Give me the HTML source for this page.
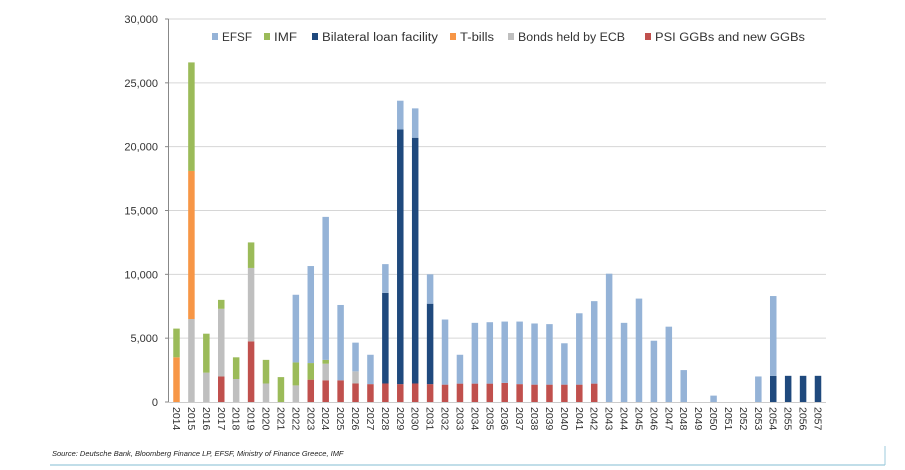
<!DOCTYPE html>
<html><head><meta charset="utf-8"><style>
html,body{margin:0;padding:0;background:#fff;}
svg{display:block;font-family:"Liberation Sans",Arial,sans-serif;}
</style></head><body>
<svg id="chart" width="905" height="470" viewBox="0 0 905 470">
<g id="grid"></g>
<g id="bars"></g>
<g id="yaxis"></g>
<g id="xaxis"></g>
<g id="legend"></g>
<text x="52" y="456" font-size="7.5" font-style="italic" fill="#222">Source: Deutsche Bank, Bloomberg Finance LP, EFSF, Ministry of Finance Greece, IMF</text>
<line x1="50" y1="465" x2="885" y2="465" stroke="#9ccbdc" stroke-width="1.2"/>
<line x1="885" y1="446" x2="885" y2="465" stroke="#9ccbdc" stroke-width="1"/>
</svg>
<script>
const years = ["2014","2015","2016","2017","2018","2019","2020","2021","2022","2023","2024","2025","2026","2027","2028","2029","2030","2031","2032","2033","2034","2035","2036","2037","2038","2039","2040","2041","2042","2043","2044","2045","2046","2047","2048","2049","2050","2051","2052","2053","2054","2055","2056","2057"];
const psi =      [0,0,0,2000,0,4750,0,0,0,1750,1700,1700,1450,1400,1450,1400,1450,1400,1360,1440,1440,1440,1500,1400,1360,1360,1360,1360,1440,0,0,0,0,0,0,0,0,0,0,0,0,0,0,0];
const ecb =      [0,6500,2300,5300,1800,5750,1450,0,1300,0,1300,0,950,0,0,0,0,0,0,0,0,0,0,0,0,0,0,0,0,0,0,0,0,0,0,0,0,0,0,0,0,0,0,0];
const tbills =   [3500,11600,0,0,0,0,0,0,0,0,0,0,0,0,0,0,0,0,0,0,0,0,0,0,0,0,0,0,0,0,0,0,0,0,0,0,0,0,0,0,0,0,0,0];
const bilateral =[0,0,0,0,0,0,0,0,0,0,0,0,0,0,7100,19950,19250,6300,0,0,0,0,0,0,0,0,0,0,0,0,0,0,0,0,0,0,0,0,0,0,2050,2050,2050,2050];
const imf =      [2250,8500,3050,700,1700,2000,1850,1950,1800,1300,300,0,0,0,0,0,0,0,0,0,0,0,0,0,0,0,0,0,0,0,0,0,0,0,0,0,0,0,0,0,0,0,0,0];
const efsf =     [0,0,0,0,0,0,0,0,5300,7600,11200,5900,2250,2300,2250,2250,2300,2300,5100,2260,4760,4810,4800,4900,4790,4740,3240,5590,6460,10050,6200,8100,4800,5900,2500,0,500,0,0,2000,6250,0,0,0];
const yTicks = [0,5000,10000,15000,20000,25000,30000];
const yTickLabels = ["0","5,000","10,000","15,000","20,000","25,000","30,000"];
const seriesNames = ["EFSF","IMF","Bilateral loan facility","T-bills","Bonds held by ECB","PSI GGBs and new GGBs"];

const NS="http://www.w3.org/2000/svg";
function mk(tag,attrs,parent){const e=document.createElementNS(NS,tag);for(const k in attrs)e.setAttribute(k,attrs[k]);parent.appendChild(e);return e;}
const y0=402, yTop=19, yMax=30000;
function yScale(v){return y0-(v/yMax)*(y0-yTop);}
const xFirst=176.5, xStep=(818-176.5)/43;
function xScale(i){return xFirst+i*xStep;}
const barW=6.5;

const grid=document.getElementById('grid');
yTicks.forEach((t,i)=>{
  if(t===0) return;
  const l=mk('line',{x1:168,x2:826,y1:yScale(t),y2:yScale(t),stroke:'#d6d6d6','stroke-width':1},grid);
  
  
});
const ya=document.getElementById('yaxis');
const al=mk('line',{x1:168.5,x2:168.5,y1:yTop,y2:y0,stroke:'#888','stroke-width':1},ya);


yTicks.forEach((t,i)=>{
  const tk=mk('line',{x1:165,x2:168.5,y1:yScale(t),y2:yScale(t),stroke:'#888'},ya);
  
  
  const tx=mk('text',{x:158,y:yScale(t)+4,'text-anchor':'end','font-size':11,fill:'#333'},ya);
  tx.textContent=yTickLabels[i];
  
  
});
const bl=mk('line',{x1:168,x2:826,y1:y0+0.5,y2:y0+0.5,stroke:'#ccc'},ya);



const stack=[[psi,'#c0504d','psi'],[ecb,'#bfbfbf','ecb'],[tbills,'#f79646','tbills'],[bilateral,'#1f497d','bilateral'],[imf,'#9bbb59','imf'],[efsf,'#95b3d7','efsf']];
const bars=document.getElementById('bars');
years.forEach((yr,i)=>{
  let cum=0;
  stack.forEach(([arr,col,nm])=>{
    const v=arr[i]; if(!v) return;
    const top=yScale(cum+v), bot=yScale(cum);
    const r=mk('rect',{x:xScale(i)-barW/2,y:top,width:barW,height:bot-top,fill:col},bars);
    
    
    cum+=v;
  });
});
const xa=document.getElementById('xaxis');
years.forEach((yr,i)=>{
  const t=mk('text',{x:0,y:0,'font-size':10.5,fill:'#333',transform:`translate(${xScale(i)-3.5},407) rotate(90)`},xa);
  t.textContent=yr;
  
  
});
const lg=document.getElementById('legend');
const lcol=['#95b3d7','#9bbb59','#1f497d','#f79646','#bfbfbf','#c0504d'];
const lx=[212,264,312,450,508,645];
const lw=[30,23,116,34,107,150];
seriesNames.forEach((n,i)=>{
  const s=mk('rect',{x:lx[i],y:33,width:6,height:7,fill:lcol[i]},lg);
  
  
  const t=mk('text',{x:lx[i]+10,y:41,'font-size':11.5,fill:'#333',textLength:lw[i],lengthAdjust:'spacingAndGlyphs'},lg);
  t.textContent=n;
  
  
});
</script>
</body></html>
